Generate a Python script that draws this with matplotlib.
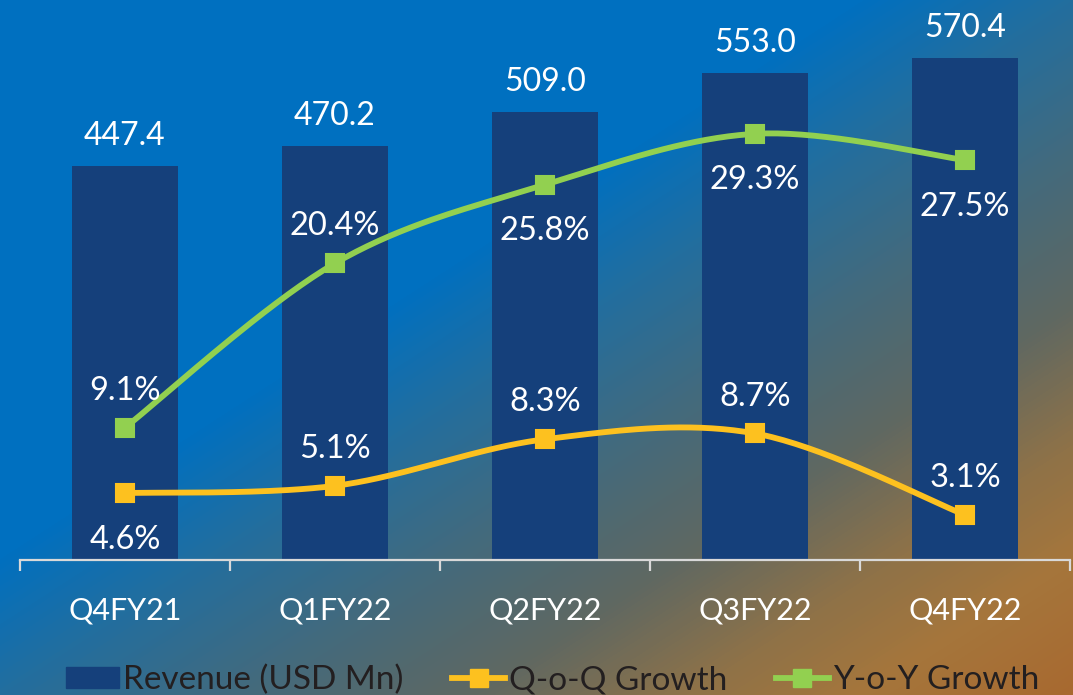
import numpy as np
import matplotlib
matplotlib.use('Agg')
import matplotlib.pyplot as plt
from matplotlib.lines import Line2D
from matplotlib.patches import Patch
from matplotlib.colors import LinearSegmentedColormap

# data
quarters = ['Q4FY21', 'Q1FY22', 'Q2FY22', 'Q3FY22', 'Q4FY22']
revenue = [447.4, 470.2, 509.0, 553.0, 570.4]
qoq_growth = [4.6, 5.1, 8.3, 8.7, 3.1]
yoy_growth = [9.1, 20.4, 25.8, 29.3, 27.5]

# which side of the point each percentage label sits on (+1 above, -1 below)
qoq_side = [-1, 1, 1, 1, 1]
yoy_side = [1, 1, -1, -1, -1]

BAR = '#15407b'
QOQ = '#fdc11f'
YOY = '#92d050'
FS = 22

plt.rcParams['font.family'] = ['Lato', 'DejaVu Sans']


def smooth(xs, ys, n=40):
    """Bezier smoothing through the points, like Excel's 'smoothed line'."""
    p = np.column_stack([xs, ys]).astype(float)
    ext = np.vstack([p[0], p, p[-1]])
    t = np.linspace(0, 1, n)[:, None]
    out = []
    for i in range(len(p) - 1):
        p0, p1, p2, p3 = ext[i], ext[i + 1], ext[i + 2], ext[i + 3]
        c1 = p1 + (p2 - p0) / 6
        c2 = p2 - (p3 - p1) / 6
        seg = (1 - t) ** 3 * p1 + 3 * (1 - t) ** 2 * t * c1 + 3 * (1 - t) * t ** 2 * c2 + t ** 3 * p2
        out.append(seg)
    pts = np.vstack(out)
    return pts[:, 0], pts[:, 1]


fig = plt.figure(figsize=(10.73, 6.95), dpi=100)

# diagonal gradient background, blue top-left to brown bottom-right
h, w = 695, 1073
yy, xx = np.mgrid[0:1:h * 1j, 0:1:w * 1j]
grad = (xx + yy) / 2
cmap = LinearSegmentedColormap.from_list('bg', [
    (0.0, (0 / 255, 112 / 255, 192 / 255)),
    (0.40, (0 / 255, 112 / 255, 192 / 255)),
    (0.50, (35 / 255, 110 / 255, 158 / 255)),
    (0.62, (70 / 255, 106 / 255, 122 / 255)),
    (0.72, (95 / 255, 104 / 255, 98 / 255)),
    (0.82, (142 / 255, 114 / 255, 72 / 255)),
    (0.90, (165 / 255, 118 / 255, 60 / 255)),
    (1.0, (168 / 255, 105 / 255, 48 / 255)),
])
bg = fig.add_axes([0, 0, 1, 1], zorder=-10)
bg.imshow(grad, cmap=cmap, vmin=0, vmax=1, aspect='auto', interpolation='bilinear')
bg.axis('off')

ax = fig.add_axes([20 / 1073, (695 - 560) / 695, 1050 / 1073, 560 / 695])
ax.patch.set_alpha(0)
x = np.arange(len(quarters))

ax.bar(x, revenue, width=0.505, color=BAR, zorder=2)
ax.set_xlim(-0.5, len(quarters) - 0.5)
ax.set_ylim(0, 636)
for xi, v in zip(x, revenue):
    ax.annotate(f'{v:.1f}', (xi, v), xytext=(0, 15), textcoords='offset points',
                ha='center', va='baseline', color='white', fontsize=23)

for s in ['top', 'right', 'left']:
    ax.spines[s].set_visible(False)
ax.spines['bottom'].set_color('#d9d9d9')
ax.spines['bottom'].set_linewidth(1.6)
ax.set_yticks([])
ax.set_xticks(x)
ax.set_xticklabels(quarters, color='white', fontsize=FS)
ax.tick_params(axis='x', which='major', length=0, pad=26)
ax.set_xticks(np.arange(-0.5, len(quarters)), minor=True)
ax.tick_params(axis='x', which='minor', length=8, width=1.6, color='#d9d9d9', direction='out')

ax2 = ax.twinx()
ax2.set_ylim(0, 38.5)
ax2.axis('off')
for vals, col, side in [(yoy_growth, YOY, yoy_side), (qoq_growth, QOQ, qoq_side)]:
    sx, sy = smooth(x, vals)
    ax2.plot(sx, sy, color=col, lw=4.2, solid_capstyle='round', zorder=3)
    ax2.plot(x, vals, ls='none', marker='s', ms=13, color=col, mec=col,
             mew=1.5, zorder=4)
    for xi, v, sd in zip(x, vals, side):
        off = 20 if sd > 0 else -40
        ax2.annotate(f'{v:.1f}%', (xi, v), xytext=(0, off), textcoords='offset points',
                     ha='center', va='baseline', color='white', fontsize=23.5)

handles = [
    Patch(color=BAR, label='Revenue (USD Mn)'),
    Line2D([], [], color=QOQ, lw=4.2, marker='s', ms=13, label='Q-o-Q Growth'),
    Line2D([], [], color=YOY, lw=4.2, marker='s', ms=13, label='Y-o-Y Growth'),
]
leg = fig.legend(handles=handles, loc='center', bbox_to_anchor=(0.515, 15 / 695), ncol=3,
                 frameon=False, fontsize=24, handlelength=1.6, handleheight=0.6,
                 handletextpad=0.12, columnspacing=1.45, labelcolor='#231f20')

fig.savefig('out.png', dpi=100)
